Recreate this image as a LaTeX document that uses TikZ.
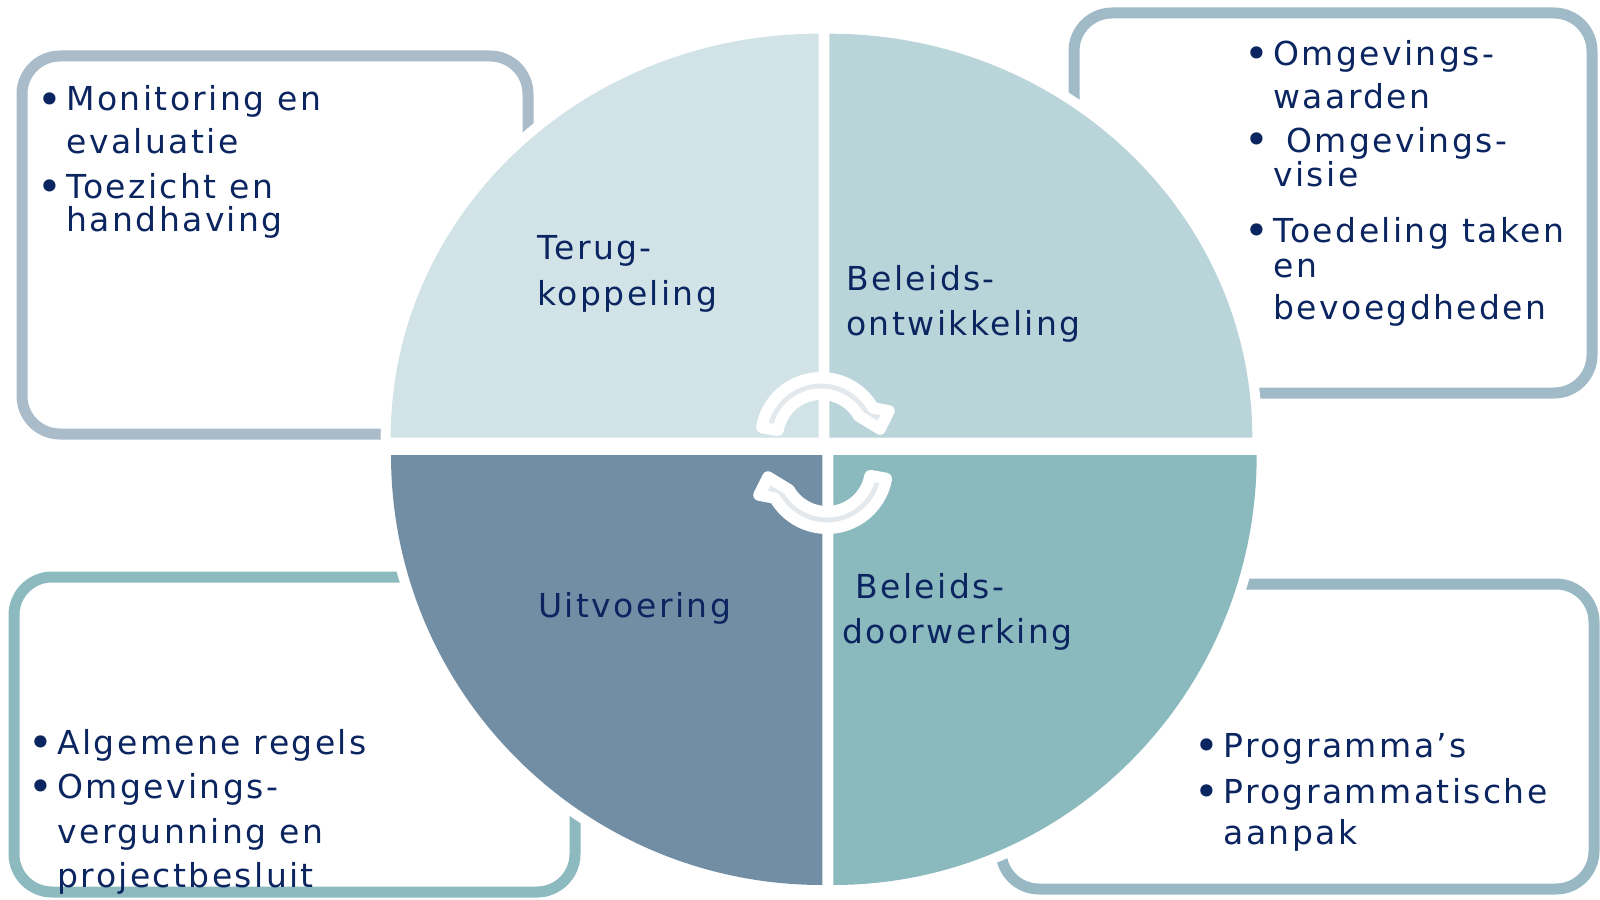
\documentclass[tikz,border=0pt]{standalone}
\usepackage{fontspec}
\newfontfamily\lbl{DejaVu Sans}[LetterSpace=7.3]
\usetikzlibrary{calc}
\definecolor{navy}{RGB}{11,37,96}
\definecolor{qTL}{RGB}{209,227,231}
\definecolor{qTR}{RGB}{186,213,218}
\definecolor{qBL}{RGB}{114,142,164}
\definecolor{qBR}{RGB}{138,185,190}
\definecolor{bTL}{RGB}{170,188,202}
\definecolor{bTR}{RGB}{160,186,200}
\definecolor{bBL}{RGB}{140,186,191}
\definecolor{bBR}{RGB}{152,185,196}
\definecolor{arrgray}{RGB}{227,232,237}
\tikzset{
  txt/.style={font={\lbl\fontsize{16.5pt}{20pt}\selectfont}, text=navy, inner sep=0pt, anchor=base west},
  bul/.style={font={\lbl\fontsize{21pt}{24pt}\selectfont}, text=navy, inner sep=0pt, anchor=base, yshift=-1.5pt},
  infobox/.style={line width=5.5pt, rounded corners=19pt},
  halo/.style={fill=white, draw=white, line width=10pt, line join=round},
  cyclearrow/.style={fill=arrgray, draw=white, line width=5.75pt, line join=round},
}
\begin{document}
\begin{tikzpicture}[x=0.5pt, y=-0.5pt]
\useasboundingbox (0,0) rectangle (1600,899);
% info boxes
\draw[infobox, draw=bTL] (22,56) rectangle (528,434);
\draw[infobox, draw=bTR] (1074,13) rectangle (1592,393);
\draw[infobox, draw=bBL] (14,577) rectangle (575,892);
\draw[infobox, draw=bBR] (1001,584) rectangle (1594,889);
% quadrants: white halo
\path[halo] (390.7,437.7) arc[start angle=180, end angle=270, x radius=428, y radius=404] -- (818.7,437.7) -- cycle;
\path[halo] (829.3,33.7) arc[start angle=270, end angle=360, x radius=423, y radius=404] -- (829.3,437.7) -- cycle;
\path[halo] (1256.7,455) arc[start angle=0, end angle=90, x radius=423.4, y radius=430] -- (833.3,455) -- cycle;
\path[halo] (822.3,885) arc[start angle=90, end angle=180, x radius=431.3, y radius=430] -- (822.3,455) -- cycle;
% quadrants
\fill[qTL] (390.7,437.7) arc[start angle=180, end angle=270, x radius=428, y radius=404] -- (818.7,437.7) -- cycle;
\fill[qTR] (829.3,33.7) arc[start angle=270, end angle=360, x radius=423, y radius=404] -- (829.3,437.7) -- cycle;
\fill[qBR] (1256.7,455) arc[start angle=0, end angle=90, x radius=423.4, y radius=430] -- (833.3,455) -- cycle;
\fill[qBL] (822.3,885) arc[start angle=90, end angle=180, x radius=431.3, y radius=430] -- (822.3,455) -- cycle;
% cycle arrows
\coordinate (c1) at (821,438);
\coordinate (c2) at (827,468);
\path[cyclearrow] ($(c1)+(190:60.25)$) arc[start angle=190, end angle=330, radius=60.25]
  -- (889,411) -- (880,429) -- ($(c1)+(330:43.75)$)
  arc[start angle=330, end angle=190, radius=43.75] -- cycle;
\path[cyclearrow] ($(c2)+(10:60.25)$) arc[start angle=10, end angle=150, radius=60.25]
  -- (759,495) -- (768,477) -- ($(c2)+(150:43.75)$)
  arc[start angle=150, end angle=10, radius=43.75] -- cycle;
% quadrant labels
\node[txt] (terug1) at (537,259) {Terug-};
\node[txt] (terug2) at (537,305) {koppeling};
\node[txt] (ontw1) at (846,290) {Beleids-};
\node[txt] (ontw2) at (846,335) {ontwikkeling};
\node[txt] (uitv) at (538,617) {Uitvoering};
\node[txt] (door1) at (855,598) {Beleids-};
\node[txt] (door2) at (842,643) {doorwerking};
% top-left box
\node[bul] (tlb1) at (50,111) {•};
\node[txt] (tl1) at (66,111) {Monitoring en};
\node[txt] (tl2) at (66,154) {evaluatie};
\node[bul] (tlb2) at (50,198) {•};
\node[txt] (tl3) at (66,198) {Toezicht en};
\node[txt] (tl4) at (66,231) {handhaving};
% top-right box
\node[bul] (trb1) at (1257,66) {•};
\node[txt] (tr1) at (1273,66) {Omgevings-};
\node[txt] (tr2) at (1273,109) {waarden};
\node[bul] (trb2) at (1257,152) {•};
\node[txt] (tr3) at (1286,152) {Omgevings-};
\node[txt] (tr4) at (1273,186) {visie};
\node[bul] (trb3) at (1257,242) {•};
\node[txt] (tr5) at (1273,242) {Toedeling taken};
\node[txt] (tr6) at (1273,277) {en};
\node[txt] (tr7) at (1273,319) {bevoegdheden};
% bottom-left box
\node[bul] (blb1) at (41,754) {•};
\node[txt] (bl1) at (57,754) {Algemene regels};
\node[bul] (blb2) at (41,798) {•};
\node[txt] (bl2) at (57,798) {Omgevings-};
\node[txt] (bl3) at (57,843) {vergunning en};
\node[txt] (bl4) at (57,887) {projectbesluit};
% bottom-right box
\node[bul] (brb1) at (1207,757) {•};
\node[txt] (br1) at (1223,757) {Programma’s};
\node[bul] (brb2) at (1207,803) {•};
\node[txt] (br2) at (1223,803) {Programmatische};
\node[txt] (br3) at (1223,844) {aanpak};
\end{tikzpicture}
\end{document}
